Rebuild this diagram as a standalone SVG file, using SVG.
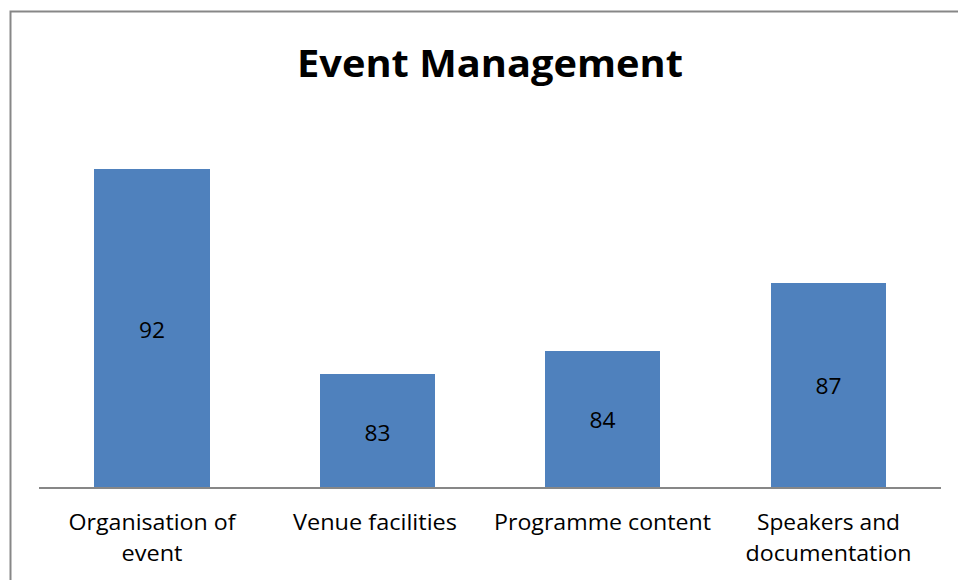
<svg xmlns="http://www.w3.org/2000/svg" width="958" height="580" viewBox="0 0 958 580">
<style>
.bar{fill:#4F81BD}
.lbl{font-family:"Open Sans","Liberation Sans",Arial,sans-serif;font-size:21px;fill:#000;text-anchor:middle}
.title{font-family:"Open Sans","Liberation Sans",Arial,sans-serif;font-weight:bold;font-size:38px;fill:#000;text-anchor:middle}
</style>
<rect x="0" y="0" width="958" height="580" fill="#fff"/>
<path d="M10.5 590 V11.5 H970" fill="none" stroke="#878787" stroke-width="2"/>
<text class="title" x="490" y="77" textLength="386" lengthAdjust="spacingAndGlyphs">Event Management</text>
<g id="bar1"><rect class="bar" x="94" y="169" width="116" height="319"/><text class="lbl" x="152" y="338" textLength="26" lengthAdjust="spacingAndGlyphs">92</text></g>
<g id="bar2"><rect class="bar" x="320" y="374" width="115" height="114"/><text class="lbl" x="377.5" y="441" textLength="26" lengthAdjust="spacingAndGlyphs">83</text></g>
<g id="bar3"><rect class="bar" x="545" y="351" width="115" height="137"/><text class="lbl" x="602.5" y="428" textLength="26" lengthAdjust="spacingAndGlyphs">84</text></g>
<g id="bar4"><rect class="bar" x="771" y="283" width="115" height="205"/><text class="lbl" x="828.5" y="394" textLength="26" lengthAdjust="spacingAndGlyphs">87</text></g>
<g id="axis"><line x1="39" y1="488" x2="941" y2="488" stroke="#878787" stroke-width="2"/></g>
<g id="cat1"><text class="lbl" x="152" y="530" textLength="167" lengthAdjust="spacingAndGlyphs">Organisation of</text><text class="lbl" x="152" y="561" textLength="61" lengthAdjust="spacingAndGlyphs">event</text></g>
<g id="cat2"><text class="lbl" x="375" y="530" textLength="164" lengthAdjust="spacingAndGlyphs">Venue facilities</text></g>
<g id="cat3"><text class="lbl" x="602.5" y="530" textLength="217" lengthAdjust="spacingAndGlyphs">Programme content</text></g>
<g id="cat4"><text class="lbl" x="828.5" y="530" textLength="143" lengthAdjust="spacingAndGlyphs">Speakers and</text><text class="lbl" x="828.5" y="561" textLength="166" lengthAdjust="spacingAndGlyphs">documentation</text></g>
</svg>
